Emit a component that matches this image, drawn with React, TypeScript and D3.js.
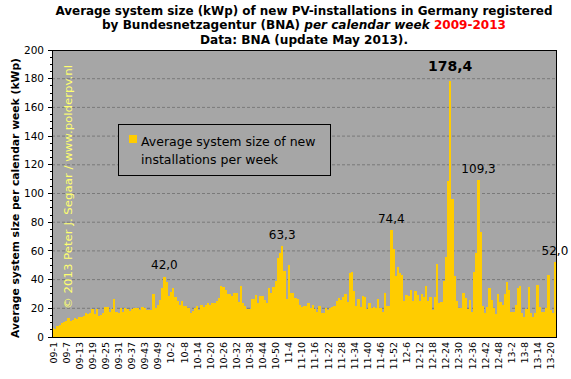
import React from 'react';
import * as d3 from 'd3';

const years = ['09', '10', '11', '12', '13'];

const values2009 = [6.5, 5.8, 7.9, 8.4, 9.5, 10.7, 11.2, 13, 11.4, 11.9, 13, 12.3, 14.2, 13.7, 14.7, 17, 16, 17, 19.3, 15.8, 19.3, 14.9, 15.3, 16.5, 21.2, 21.2, 17.7, 19.3, 26.3, 17.2, 17, 20.5, 17.7, 20, 19.3, 18.4, 19.3, 20, 20, 20, 19, 21, 20, 19, 19, 19, 30, 20, 22, 26, 34, 42.0, 38];
const values2010 = [28.5, 31.5, 34, 28, 25, 22, 25, 21.5, 21.5, 20, 17, 18, 20, 21.5, 19, 22, 21, 22, 23.5, 22.5, 23.5, 24, 25, 27, 35.5, 35, 32.5, 30, 30, 28.7, 30.7, 30.7, 24.5, 35.6, 23.5, 21.5, 19.5, 19.5, 26.5, 26.8, 29.3, 23.5, 28.3, 28.7, 26, 23.5, 33.8, 30.5, 34.5, 39.2, 55.2, 58.4];
const values2011 = [63.3, 46, 26.5, 50, 31, 30.5, 27, 26.5, 22.5, 20.7, 21.6, 21.6, 23.5, 20, 22.3, 19.3, 17.7, 21.6, 17, 17, 20, 18.8, 20, 21.2, 21.6, 25.3, 27, 25.8, 28, 29.8, 24.6, 44.9, 45.6, 32, 21.6, 26.3, 21.2, 28.6, 28, 19.3, 24, 20, 21.2, 20, 26.3, 20, 17.7, 30.5, 21.6, 21.6, 74.4, 61.4];
const values2012 = [42.6, 48.7, 44.5, 43, 25, 29.3, 28.8, 32.8, 25, 32, 29.3, 25, 30, 28, 35.6, 25, 28, 18.8, 28, 50.7, 23.5, 24.2, 39, 56, 109, 178.4, 96.3, 42.2, 25.4, 20.5, 20.5, 31, 27, 19.3, 26, 17.7, 45, 58.5, 109.3, 73, 21.7, 17, 21.2, 34, 25.5, 20, 16, 30, 24.5, 22, 29.7, 38.5];
const values2013 = [32.9, 17.7, 17.7, 22.4, 33.8, 35.7, 17, 14.2, 19.4, 34.8, 17, 14.2, 16.8, 36, 21, 17.5, 17.5, 20, 43.4, 18.8, 16.5, 52.0];

const seriesByYear = [values2009, values2010, values2011, values2012, values2013];
const labelledWeeks = ['09-52', '11-1', '11-51', '12-26', '12-39', '13-22'];
const yTicks = [0, 20, 40, 60, 80, 100, 120, 140, 160, 180, 200];
const tickEvery = 6;

const categories: string[] = [];
const values: number[] = [];
seriesByYear.forEach((arr, yi) =>
  arr.forEach((v, wi) => {
    categories.push(`${years[yi]}-${wi + 1}`);
    values.push(v);
  })
);

const FONT = "Verdana, 'DejaVu Sans', sans-serif";
const TITLE_FONT = "'DejaVu Sans Condensed', 'DejaVu Sans', sans-serif";
const W = 571;
const H = 379;
const L = 52, R = 556, T = 50, B = 337;

export default function App() {
  const x = d3.scaleBand<string>().domain(categories).range([L, R]).padding(0);
  const y = d3.scaleLinear().domain([0, 200]).range([B, T]);
  const minor = d3.range(0, 201, 5);
  const fmt = (v: number) => d3.format('.1f')(v).replace('.', ',');
  const maxV = d3.max(values) as number;
  const bw = x.bandwidth();

  return (
    <svg width={W} height={H} style={{ position: 'absolute', left: 0, top: 0, background: '#fff' }} fontFamily={FONT}>
      <rect x={0} y={0} width={W} height={H} fill="#fff" />
      {/* title */}
      <g fontWeight="bold" textAnchor="middle" fontSize={12.5} fill="#000" fontFamily={TITLE_FONT}>
        <text x={304} y={14.5} textLength={497} lengthAdjust="spacingAndGlyphs">
          Average system size (kWp) of new PV-installations  in Germany registered
        </text>
        <text x={304} y={29} textLength={404} lengthAdjust="spacingAndGlyphs">
          by Bundesnetzagentur  (BNA) <tspan fontStyle="italic">per calendar week</tspan>{' '}
          <tspan fill="#ff0000">2009-2013</tspan>
        </text>
        <text x={304} y={44} textLength={208} lengthAdjust="spacingAndGlyphs">
          Data: BNA (update May 2013).
        </text>
      </g>

      {/* plot background */}
      <rect x={L} y={T} width={R - L} height={B - T} fill="#a6a6a6" />
      {yTicks.slice(1, -1).map((t) => (
        <line key={t} x1={L} x2={R} y1={y(t)} y2={y(t)} stroke="#7a7a7a" strokeDasharray="3,2" strokeWidth={1} />
      ))}

      {/* watermark */}
      <text
        transform={`translate(72,309) rotate(-90)`}
        fontSize={11}
        fill="#ffff70"
        textLength={244}
        lengthAdjust="spacingAndGlyphs"
      >
        © 2013 Peter J. Segaar / www.polderpv.nl
      </text>

      {/* bars */}
      <g shapeRendering="crispEdges">
        {values.map((v, i) => (
          <rect key={i} x={x(categories[i])} y={y(v)} width={bw + 0.2} height={B - y(v)} fill="#ffcc00" />
        ))}
      </g>

      {/* data labels */}
      {labelledWeeks.map((c) => {
        const i = categories.indexOf(c);
        const v = values[i];
        const isMax = v === maxV;
        return (
          <text
            key={c}
            x={(x(c) as number) + bw / 2}
            y={y(v) - (isMax ? 10 : 7.5)}
            textAnchor="middle"
            fontSize={isMax ? 14 : 12}
            fontWeight={isMax ? 'bold' : 'normal'}
            fill="#000"
          >
            {fmt(v)}
          </text>
        );
      })}

      {/* frame */}
      <rect x={L} y={T} width={R - L} height={B - T} fill="none" stroke="#000" strokeWidth={1} shapeRendering="crispEdges" />

      {/* y axis ticks */}
      <g shapeRendering="crispEdges">
        {minor.map((t) => (
          <line key={t} x1={t % 20 === 0 ? L - 4 : L - 2} x2={L} y1={y(t)} y2={y(t)} stroke="#000" />
        ))}
      </g>
      {yTicks.map((t) => (
        <text key={t} x={44} y={y(t)} dy="0.35em" textAnchor="end" fontSize={10.5} fill="#000">
          {t}
        </text>
      ))}

      {/* y title */}
      <text
        transform={`translate(19,198) rotate(-90)`}
        textAnchor="middle"
        fontSize={11}
        fontWeight="bold"
        textLength={280}
        lengthAdjust="spacingAndGlyphs"
      >
        Average system size per calendar week (kWp)
      </text>

      {/* x labels */}
      {categories
        .filter((_, i) => i % tickEvery === 0)
        .map((c) => (
          <text
            key={c}
            transform={`translate(${(x(c) as number) + bw / 2 + 3.5},342) rotate(-90)`}
            textAnchor="end"
            fontSize={9.5}
            fill="#000"
          >
            {c}
          </text>
        ))}

      {/* legend */}
      <rect x={118.5} y={124.5} width={212} height={51} fill="#a6a6a6" stroke="#000" strokeWidth={1} />
      <rect x={129} y={135} width={8} height={8} fill="#ffcc00" />
      <text x={141} y={146} fontSize={12.5} fill="#000">Average system size of new</text>
      <text x={141} y={164} fontSize={12.5} fill="#000">installations per week</text>
    </svg>
  );
}
